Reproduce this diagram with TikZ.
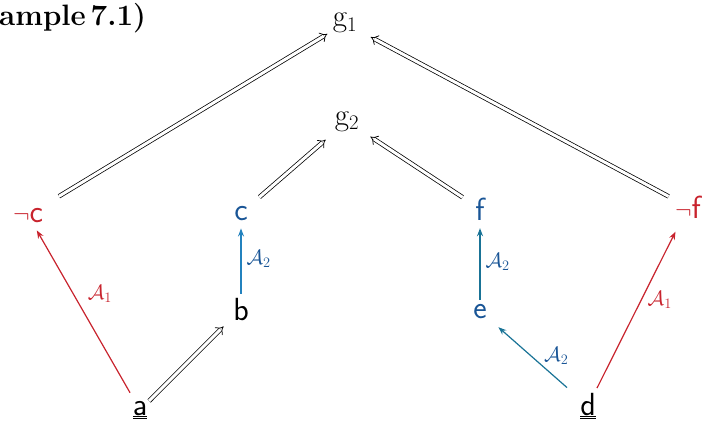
\documentclass[tikz,border=0pt]{standalone}
\usetikzlibrary{arrows.meta}
\definecolor{myred}{RGB}{200,35,45}
\definecolor{myblue}{RGB}{25,85,150}
\definecolor{arrblue}{RGB}{35,130,190}
\definecolor{arrteal}{RGB}{25,115,150}
\begin{document}
\begin{tikzpicture}[x=1pt,y=-1pt,
  lbl/.style={font=\fontsize{32}{38}\selectfont\sffamily, inner sep=1pt, anchor=base},
  glbl/.style={font=\fontsize{31}{36}\selectfont\rmfamily, inner sep=1pt, anchor=base},
  alab/.style={font=\fontsize{21}{24}\selectfont, inner sep=1pt},
  dbl/.style={double, double distance=3pt, line width=0.75pt, -{Implies}},
  sarr/.style={line width=1.2pt, -{Stealth[length=8pt,width=6pt]}}]
\useasboundingbox (0,0) rectangle (717,428);
\node[font=\fontsize{29.5}{34}\selectfont\bfseries, anchor=base west, inner sep=0pt] (title) at (-1,26) {ample\,7.1)};
\node[glbl] (g1) at (345,27) {g$_1$};
\node[glbl] (g2) at (347,125) {g$_2$};
\node[lbl, text=myred] (nc) at (28,222) {$\neg$c};
\node[lbl, text=myblue] (c) at (241,220) {c};
\node[lbl, text=myblue] (f) at (480,220) {f};
\node[lbl, text=myred] (nf) at (688,218) {$\neg$f};
\node[lbl] (b) at (241,320) {b};
\node[lbl, text=myblue] (e) at (480,318) {e};
\node[lbl] (a) at (140,415) {\underline{\underline{a}}};
\node[lbl] (d) at (588,415) {\underline{\underline{d}}};
\draw[dbl, shorten <=20pt, shorten >=5pt] (nc) -- (g1);
\draw[dbl, shorten <=6pt, shorten >=14pt] (nf) -- (g1);
\draw[dbl, shorten <=14pt, shorten >=11pt] (c) -- (g2);
\draw[dbl, shorten <=14pt, shorten >=12pt] (f) -- (g2);
\draw[dbl, shorten <=1pt, shorten >=12pt] (a) -- (b);
\draw[sarr, myred, shorten <=8pt, shorten >=8pt] (a) -- node[alab, pos=.6, right=13pt, text=myred] {$\mathcal{A}_1$} (nc);
\draw[sarr, myred, shorten <=4pt, shorten >=14pt] (d) -- node[alab, pos=.53, right=5pt, text=myred] {$\mathcal{A}_1$} (nf);
\draw[sarr, arrblue, shorten <=3pt, shorten >=7pt] (b) -- node[alab, midway, right=4pt, text=myblue] {$\mathcal{A}_2$} (c);
\draw[sarr, arrteal, shorten <=3pt, shorten >=7pt] (e) -- node[alab, midway, right=4pt, text=myblue] {$\mathcal{A}_2$} (f);
\draw[sarr, arrteal, shorten <=16pt, shorten >=14pt] (d) -- node[alab, pos=.4, anchor=south west, text=myblue] {$\mathcal{A}_2$} (e);
\end{tikzpicture}
\end{document}
